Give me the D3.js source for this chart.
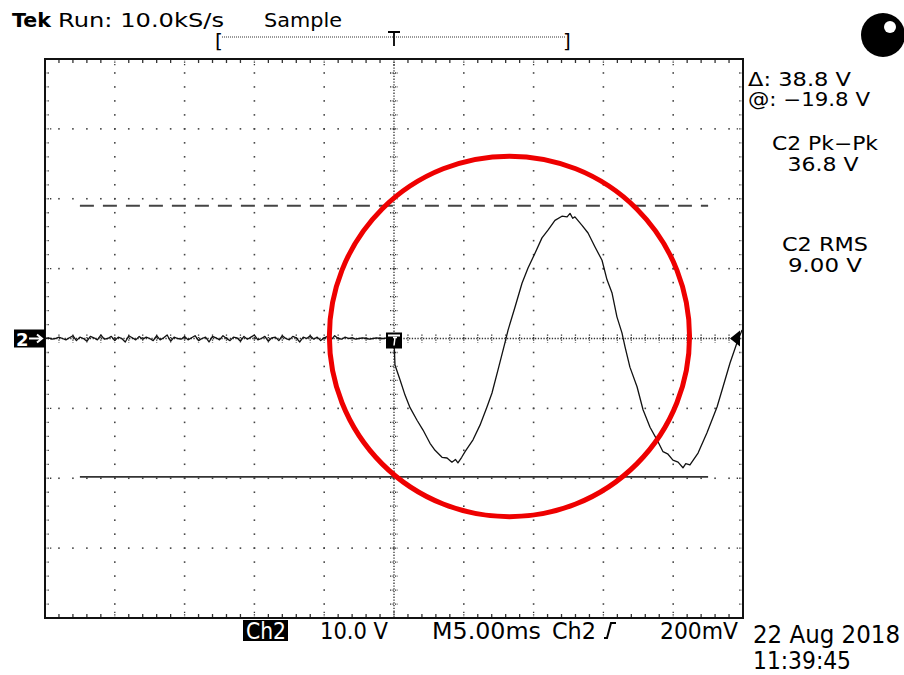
<!DOCTYPE html>
<html><head><meta charset="utf-8">
<script src="https://cdn.jsdelivr.net/npm/d3@7"></script>
<style>body{margin:0;background:#fff}svg{display:block}</style>
</head><body><svg id="c" width="904" height="675"></svg>
<script>
// ---------------- DATA ----------------
// scope settings
const msPerDiv = 5;          // M5.00ms
const voltsPerDiv = 10;      // Ch2 10.0 V
const divsX = 10, divsY = 8;
// pre-trigger samples (V), sampled every 0.25 ms from -25 ms
const preTriggerStepMs = 0.25;
const preTriggerV = [0.0,0.1,-0.1,0.0,0.2,0.0,-0.2,0.1,0.4,-0.3,
  0.2,0.0,-0.4,0.3,0.1,-0.2,0.5,-0.1,0.0,0.3,
  -0.3,0.2,0.0,-0.5,0.4,0.1,-0.2,0.3,-0.1,0.2,
  0.0,-0.3,0.4,-0.2,0.1,0.5,-0.4,0.2,0.0,-0.1,
  0.3,-0.2,0.1,0.4,-0.3,0.0,0.2,-0.5,0.3,0.1,
  -0.2,0.4,0.0,-0.3,0.2,0.1,-0.4,0.3,-0.1,0.2,
  0.5,-0.2,0.0,0.3,-0.4,0.1,0.2,-0.3,0.4,0.0,
  -0.2,0.3,0.1,-0.5,0.2,0.0,0.4,-0.1,0.2,-0.3,
  0.1,0.3,-0.2,0.4,0.0,-0.1,0.2,0.0,0.1,-0.1,
  0.0,0.1,0.0,-0.1,0.0,0.1,0.0,0.0,0.1,0.0];
// post-trigger waveform (ms, V)
const waveT = [0.0,0.07,0.43,0.79,1.15,1.65,2.08,2.58,2.94,3.44,3.80,4.15,4.40,4.58,4.85,5.09,5.66,6.16,6.66,7.02,7.45,7.95,8.17,8.67,9.17,9.60,10.10,10.60,11.03,11.53,12.03,12.40,12.61,12.80,12.96,13.47,13.90,14.40,14.90,15.26,15.62,15.97,16.33,16.55,16.90,17.41,17.84,18.34,18.84,19.27,19.60,19.98,20.35,20.70,20.90,21.20,21.78,22.42,23.14,23.57,24.07,24.57,24.93];
const waveV = [0.0,-3.8,-5.9,-8.1,-9.9,-11.7,-13.1,-15.0,-16.0,-17.0,-17.1,-17.7,-17.3,-17.8,-17.0,-16.2,-14.5,-12.4,-9.8,-7.8,-4.5,-0.6,1.2,4.5,7.9,10.1,12.2,14.4,15.5,16.9,17.5,17.4,17.9,17.2,17.4,16.2,15.1,13.1,11.2,8.4,6.5,3.1,0.8,-1.2,-4.1,-6.9,-10.2,-12.7,-14.5,-16.2,-16.5,-17.4,-17.7,-18.5,-17.9,-18.1,-16.4,-13.5,-9.8,-6.9,-3.5,-0.6,1.2];
// cursors (V) and their horizontal extent (ms)
const cursorDashedV = 19.0;
const cursorSolidV = -19.8;
const cursorSpanMs = [-22.5, 22.5];
const triggerLevelV = 0.0;
// annotation circle (centre ms, V; radius in divisions)
const annotCircle = {t: 8.27, v: 0.3, rDiv: 2.58};
// texts
const headerBold = "Tek";
const headerRun = "Run: 10.0kS/s";
const headerMode = "Sample";
const readoutDelta = ["\u0394: 38.8 V", "@: \u221219.8 V"];
const readoutMeas = ["C2 Pk\u2212Pk", "36.8 V", "C2 RMS", "9.00 V"];
const bottomLabels = ["Ch2", "10.0 V", "M5.00ms", "Ch2", "200mV"];
const dateLabels = ["22 Aug 2018", "11:39:45"];
const channelMarker = "2";

// ---------------- DRAW ----------------
const svg = d3.select("#c");
const x = d3.scaleLinear().domain([-divsX/2*msPerDiv, divsX/2*msPerDiv]).range([45, 743]);
const y = d3.scaleLinear().domain([-divsY/2*voltsPerDiv, divsY/2*voltsPerDiv]).range([618, 59]);
const dx = (x(msPerDiv) - x(0)) / 5, dyv = (y(0) - y(voltsPerDiv)) / 5;
const FONT = "DejaVu Sans, Verdana, sans-serif";
const NARROW = "Liberation Sans Narrow, DejaVu Sans Condensed, Liberation Sans, sans-serif";

const minorT = d3.range(-25, 25.001, 1);
const minorV = d3.range(-40, 40.001, 2);
const majorT = d3.range(-20, 20.001, 5).filter(t => t !== 0);
const majorV = d3.range(-30, 30.001, 10).filter(v => v !== 0);

const grid = svg.append("g").attr("fill", "#444");
// dotted major grid
majorT.forEach(t => minorV.forEach(v => grid.append("rect").attr("x", x(t)-0.8).attr("y", y(v)-0.8).attr("width",1.6).attr("height",1.6)));
majorV.forEach(v => minorT.forEach(t => grid.append("rect").attr("x", x(t)-0.8).attr("y", y(v)-0.8).attr("width",1.6).attr("height",1.6)));
// centre lines
const cg = svg.append("g").attr("stroke", "#333").attr("stroke-width", 1.3);
cg.append("line").attr("x1", x(-25)).attr("x2", x(25)).attr("y1", y(0)).attr("y2", y(0)).attr("stroke-dasharray", "1.3,1.5");
cg.append("line").attr("x1", x(0)).attr("x2", x(0)).attr("y1", y(40)).attr("y2", y(-40)).attr("stroke-dasharray", "1.3,1.5");
d3.range(-25, 25.001, 1).forEach(t => cg.append("line").attr("x1", x(t)).attr("x2", x(t)).attr("y1", y(0)-4).attr("y2", y(0)+4).attr("stroke-dasharray","1.3,1.2"));
d3.range(-40, 40.001, 2).forEach(v => cg.append("line").attr("y1", y(v)).attr("y2", y(v)).attr("x1", x(0)-4).attr("x2", x(0)+4).attr("stroke-dasharray","1.3,1.2"));
// border ticks
const bt = svg.append("g").attr("stroke", "#333").attr("stroke-width", 1.3);
minorT.forEach(t => {
  const L = (Math.abs(t % 5) < 1e-6) ? 7 : 4;
  bt.append("line").attr("x1", x(t)).attr("x2", x(t)).attr("y1", y(40)).attr("y2", y(40)+L).attr("stroke-dasharray", L>4?"1.3,1.2":null);
  bt.append("line").attr("x1", x(t)).attr("x2", x(t)).attr("y1", y(-40)).attr("y2", y(-40)-L).attr("stroke-dasharray", L>4?"1.3,1.2":null);
});
minorV.forEach(v => {
  const L = (Math.abs(v % 10) < 1e-6) ? 7 : 4;
  bt.append("line").attr("y1", y(v)).attr("y2", y(v)).attr("x1", x(-25)).attr("x2", x(-25)+L).attr("stroke-dasharray", "1.3,1.2");
  bt.append("line").attr("y1", y(v)).attr("y2", y(v)).attr("x1", x(25)).attr("x2", x(25)-L).attr("stroke-dasharray", "1.3,1.2");
});
// border
svg.append("rect").attr("x", x(-25)).attr("y", y(40)).attr("width", x(25)-x(-25)).attr("height", y(-40)-y(40))
  .attr("fill", "none").attr("stroke", "#111").attr("stroke-width", 2);

// cursors
svg.append("line").attr("x1", x(cursorSpanMs[0])).attr("x2", x(cursorSpanMs[1])).attr("y1", y(cursorDashedV)).attr("y2", y(cursorDashedV))
  .attr("stroke", "#444").attr("stroke-width", 2).attr("stroke-dasharray", "14,9");
svg.append("line").attr("x1", x(cursorSpanMs[0])).attr("x2", x(cursorSpanMs[1])).attr("y1", y(cursorSolidV)).attr("y2", y(cursorSolidV))
  .attr("stroke", "#333").attr("stroke-width", 1.6);

// waveform
const pts = preTriggerV.map((v, i) => [-25 + i*preTriggerStepMs, v]).concat(waveT.map((t, i) => [t, waveV[i]]));
svg.append("path").datum(pts).attr("d", d3.line().x(d => x(d[0])).y(d => y(d[1])))
  .attr("fill", "none").attr("stroke", "#111").attr("stroke-width", 1.3).attr("stroke-linejoin", "round");

// trigger position marker on centre
const tx = x(0), ty = y(triggerLevelV);
svg.append("rect").attr("x", tx-8).attr("y", ty-6).attr("width", 16).attr("height", 16).attr("fill", "#000");
svg.append("rect").attr("x", tx-6).attr("y", ty-4).attr("width", 12).attr("height", 2).attr("fill", "#fff");
svg.append("path").attr("d", `M${tx-1},${ty-1} L${tx+3},${ty-1} M${tx+1},${ty-1} L${tx},${ty+7}`).attr("stroke", "#fff").attr("stroke-width", 1.5).attr("fill","none");
// trigger level arrow on right
svg.append("path").attr("d", `M${x(25)-13},${ty} L${x(25)-3},${ty-8} L${x(25)-3},${ty+8} Z`).attr("fill", "#000");
// channel marker on left
svg.append("rect").attr("x", 14).attr("y", y(0)-9).attr("width", 31).attr("height", 18).attr("fill", "#000");
svg.append("text").attr("x", 16).attr("y", y(0)+7).text(channelMarker).attr("fill", "#fff").attr("font-family", FONT).attr("font-weight","bold").attr("font-size", 18);
svg.append("path").attr("d", `M29,${y(0)} L42,${y(0)} M37,${y(0)-4} L42,${y(0)} L37,${y(0)+4}`).attr("stroke", "#fff").attr("stroke-width", 2).attr("fill", "none");

// annotation circle
svg.append("ellipse").attr("cx", x(annotCircle.t)).attr("cy", y(annotCircle.v))
  .attr("rx", annotCircle.rDiv * dx * 5).attr("ry", annotCircle.rDiv * dyv * 5)
  .attr("fill", "none").attr("stroke", "#ee0000").attr("stroke-width", 5);

// header
const txt = (s, xx, yy, size, w, opts = {}) => {
  const t = svg.append("text").attr("x", xx).attr("y", yy).text(s).attr("font-size", size)
    .attr("font-family", opts.family || FONT).attr("fill", opts.fill || "#000");
  if (opts.bold) t.attr("font-weight", "bold");
  if (opts.anchor) t.attr("text-anchor", opts.anchor);
  if (w) t.attr("textLength", w).attr("lengthAdjust", "spacingAndGlyphs");
  return t;
};
txt(headerBold, 12, 27, 20, 39, {bold: true});
txt(headerRun, 58, 27, 20, 166);
txt(headerMode, 264, 27, 20, 78);
// record bracket
svg.append("text").attr("x", 215).attr("y", 48).text("[").attr("font-size", 20).attr("font-family", FONT);
svg.append("text").attr("x", 563).attr("y", 48).text("]").attr("font-size", 20).attr("font-family", FONT);
svg.append("line").attr("x1", 222).attr("x2", 565).attr("y1", 37).attr("y2", 37).attr("stroke", "#333").attr("stroke-width", 1).attr("stroke-dasharray", "1,1");
svg.append("path").attr("d", `M${tx-6},32 L${tx+6},32 M${tx},32 L${tx},46`).attr("stroke", "#000").attr("stroke-width", 1.8);

// right readouts
txt(readoutDelta[0], 748, 86, 19, 103);
txt(readoutDelta[1], 748, 106, 19, 122);
txt(readoutMeas[0], 825, 150, 19, 106, {anchor: "middle"});
txt(readoutMeas[1], 823, 171, 19, 71, {anchor: "middle"});
txt(readoutMeas[2], 825, 251, 19, 86, {anchor: "middle"});
txt(readoutMeas[3], 825, 272, 19, 74, {anchor: "middle"});

// ball icon
svg.append("circle").attr("cx", 883).attr("cy", 35).attr("r", 22).attr("fill", "#000");
svg.append("circle").attr("cx", 890).attr("cy", 27).attr("r", 6).attr("fill", "#fff");

// bottom labels
svg.append("rect").attr("x", 243).attr("y", 620).attr("width", 45).attr("height", 21).attr("fill", "#000");
txt(bottomLabels[0], 246, 639, 23, 40, {family: NARROW, fill: "#fff"});
txt(bottomLabels[1], 320, 639, 23, 68, {family: NARROW});
txt(bottomLabels[2], 432, 639, 23, 109, {family: NARROW});
txt(bottomLabels[3], 552, 639, 23, 44, {family: NARROW});
svg.append("path").attr("d", "M604,638 L607,638 L611,623 L616,623").attr("stroke", "#000").attr("stroke-width", 2).attr("fill", "none");
txt(bottomLabels[4], 660, 639, 23, 78, {family: NARROW});
txt(dateLabels[0], 753, 643, 24, 147, {family: NARROW});
txt(dateLabels[1], 753, 669, 24, 98, {family: NARROW});
</script></body></html>
